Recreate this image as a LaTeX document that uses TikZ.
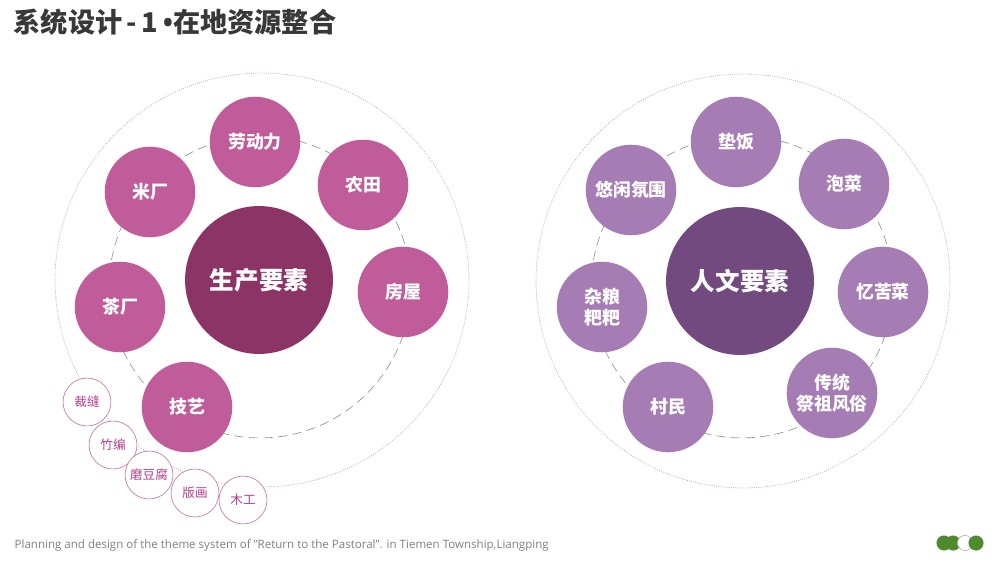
\documentclass[tikz,border=0pt]{standalone}
\usepackage{fontspec}
\usepackage{xcolor}
\usepackage{tikz}
\usetikzlibrary{positioning}
\setmainfont{Open Sans}
\newfontfamily\cjk{Noto Sans CJK SC}
\definecolor{prodcore}{HTML}{8B3465}
\definecolor{prodsat}{HTML}{C05C99}
\definecolor{humcore}{HTML}{734A80}
\definecolor{humsat}{HTML}{A67CB5}
\definecolor{craftline}{HTML}{C27DAB}
\definecolor{crafttext}{HTML}{B0408A}
\definecolor{ringline}{HTML}{C9A7BA}
\definecolor{logogreen}{HTML}{4E8A2E}
\tikzset{
  core/.style={circle, draw=none, minimum size=3.92cm, inner sep=0pt, text=white,
               font=\cjk\bfseries\fontsize{18.5}{20}\selectfont},
  sat/.style={circle, draw=none, minimum size=2.4cm, inner sep=0pt, text=white, align=center,
              font=\cjk\bfseries\fontsize{13.5}{16}\selectfont},
  craft/.style={circle, draw=craftline, line width=0.5pt, fill=white, minimum size=1.27cm,
                inner sep=0pt, text=crafttext, font=\cjk\fontsize{9.5}{11}\selectfont},
  outerring/.style={circle, draw=ringline, densely dotted, line width=0.6pt,
                    minimum size=10.97cm, inner sep=0pt},
  dashring/.style={circle, draw=gray!85, dash pattern=on 7pt off 4pt, line width=0.5pt,
                   minimum size=8.0cm, inner sep=0pt},
  dot/.style={circle, minimum size=0.4cm, inner sep=0pt},
}
\begin{document}
\begin{tikzpicture}[x=0.0265cm, y=-0.0265cm]
\useasboundingbox (0,0) rectangle (1000,562);
% title and footer
\node[anchor=west, text=black!78, font=\cjk\bfseries\fontsize{20.5}{24}\selectfont] (title) at (9,22)
  {系统设计\,-\,1{\fontspec{Open Sans}\bfseries\,•}在地资源整合};
\node[anchor=west, text=black!50, font=\fontsize{8.7}{10}\selectfont] (footer) at (10,545)
  {Planning and design of the theme system of "Return to the Pastoral". in Tiemen Township,Liangping};

% left: production factors
\node[outerring] (prodring) at (262,280) {};
\node[dashring] (proddash) at (260,287) {};
\node[core, fill=prodcore] (prod) at (259,280) {生产要素};
\node[sat, fill=prodsat] (labor) at (255,142) {劳动力};
\node[sat, fill=prodsat] (field) at (363,185) {农田};
\node[sat, fill=prodsat] (house) at (403,292) {房屋};
\node[sat, fill=prodsat] (rice) at (150,192) {米厂};
\node[sat, fill=prodsat] (tea) at (120,307) {茶厂};
\node[sat, fill=prodsat] (skill) at (187,407) {技艺};
\node[craft] (tailor) at (87,402) {裁缝};
\node[craft] (bamboo) at (113,445) {竹编};
\node[craft] (tofu) at (149,475) {磨豆腐};
\node[craft] (print) at (195,493) {版画};
\node[craft] (wood) at (243,500) {木工};

% right: humanities
\node[outerring] (humring) at (743,281) {};
\node[dashring] (humdash) at (742,287) {};
\node[core, fill=humcore] (hum) at (740,281) {人文要素};
\node[sat, fill=humsat] (meal) at (736,142) {垫饭};
\node[sat, fill=humsat] (pickle) at (844,184) {泡菜};
\node[sat, fill=humsat] (bitter) at (883,292) {忆苦菜};
\node[sat, fill=humsat] (ritual) at (832,393) {传统\\祭祖风俗};
\node[sat, fill=humsat] (folk) at (668,407) {村民};
\node[sat, fill=humsat] (cake) at (602,307) {杂粮\\粑粑};
\node[sat, fill=humsat] (leisure) at (631,190) {悠闲氛围};

% logo
\node[dot, fill=logogreen] (g1) at (944,543) {};
\node[dot, fill=logogreen] (g2) at (953,543) {};
\node[dot, fill=white, draw=gray!70, line width=0.4pt] (w1) at (965,543) {};
\node[dot, fill=logogreen] (g3) at (976,543) {};
\end{tikzpicture}
\end{document}
